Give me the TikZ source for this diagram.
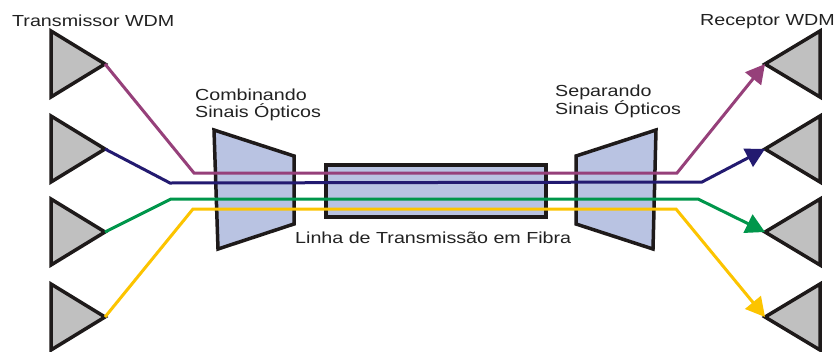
\documentclass[tikz,border=0pt]{standalone}
\usepackage{fontspec}
\setmainfont[FakeStretch=1.23]{Liberation Sans}
\usetikzlibrary{arrows.meta}
\definecolor{txtc}{HTML}{222222}
\definecolor{edgec}{HTML}{1E1A1A}
\definecolor{grayc}{HTML}{C0C0C0}
\definecolor{boxc}{HTML}{B9C3E2}
\definecolor{lpurple}{HTML}{96407A}
\definecolor{lblue}{HTML}{231A70}
\definecolor{lgreen}{HTML}{00964B}
\definecolor{lyellow}{HTML}{FCC400}
\tikzset{
  unit/.style={draw=edgec,fill=grayc,line width=3.5pt,miter limit=10},
  blockbox/.style={draw=edgec,fill=boxc,line width=3.5pt,miter limit=10},
  fibre/.style={line width=3pt,line join=miter,miter limit=10},
  fibrearrow/.style={fibre,-{Triangle[length=19pt,width=20pt]}},
  lbl/.style={inner sep=0pt,text=txtc,align=left,font=\fontsize{16}{17}\selectfont}
}
\begin{document}
\begin{tikzpicture}[x=1pt,y=-1pt]
\useasboundingbox[fill=white] (0,0) rectangle (835,351);
% transmitter and receiver tips
\coordinate (t1) at (105,64);
\coordinate (t2) at (105,149);
\coordinate (t3) at (105,232);
\coordinate (t4) at (105,317);
\coordinate (r1) at (765,64);
\coordinate (r2) at (765,149);
\coordinate (r3) at (765,232);
\coordinate (r4) at (765,317);
\foreach \y/\tip in {64/t1,149/t2,232/t3,317/t4}{
  \draw[unit] (51,\y-33) -- (51,\y+33) -- (\tip) -- cycle;
}
\foreach \y/\tip in {64/r1,149/r2,232/r3,317/r4}{
  \draw[unit] (820,\y-33) -- (820,\y+33) -- (\tip) -- cycle;
}
% blocks
\draw[blockbox] (214,130) -- (294,156) -- (294,224) -- (218,249) -- cycle;
\draw[blockbox] (576,156) -- (656,130) -- (653,249) -- (576,224) -- cycle;
\node[blockbox,minimum width=220pt,minimum height=52pt,inner sep=0pt,outer sep=0pt,anchor=center] (fiber) at (436,191) {};
% fibres
\coordinate (p1) at (194,173);\coordinate (p2) at (677,173);
\coordinate (b1) at (170,183);\coordinate (b2) at (702,182);
\coordinate (g1) at (171,199);\coordinate (g2) at (698,199);
\coordinate (y1) at (193,209);\coordinate (y2) at (676,209);
\draw[fibrearrow,lpurple] (t1) -- (p1) -- (p2) -- (r1);
\draw[fibrearrow,lblue] (t2) -- (b1) -- (b2) -- (r2);
\draw[fibrearrow,lgreen] (t3) -- (g1) -- (g2) -- (r3);
\draw[fibrearrow,lyellow] (t4) -- (y1) -- (y2) -- (r4);
% labels
\node[lbl,anchor=base west] (ltx) at (12,26) {Transmissor WDM};
\node[lbl,anchor=base west] (lrx) at (700,25) {Receptor WDM};
\node[lbl,anchor=north west] (lcomb) at (195,89) {Combinando\\Sinais Ópticos};
\node[lbl,anchor=north west] (lsep) at (555,84.5) {Separando\\Sinais Ópticos};
\node[lbl,anchor=base west] (lfib) at (295,243) {Linha de Transmissão em Fibra};
\end{tikzpicture}
\end{document}
